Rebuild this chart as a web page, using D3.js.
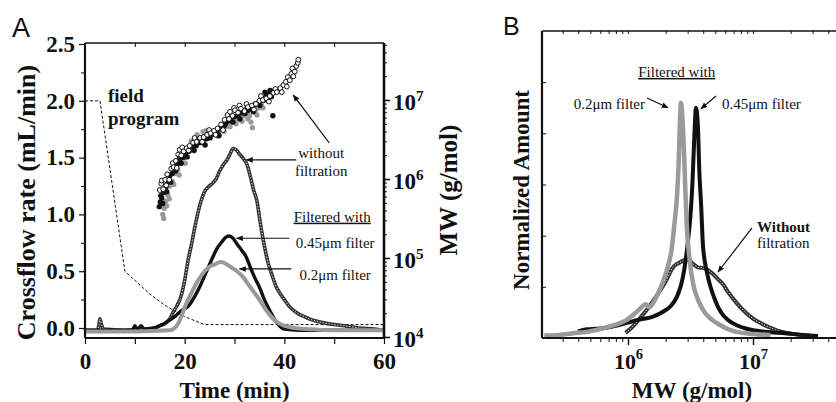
<!DOCTYPE html>
<html>
<head>
<meta charset="utf-8">
<script src="https://cdn.jsdelivr.net/npm/d3@7"></script>
<style>
  body { margin: 0; background: #fff; }
  svg { display: block; }
  text { font-family: "Liberation Serif", "Times New Roman", serif; fill: #111; }
</style>
</head>
<body>
<div id="chart"></div>
<script>
// ===============================================================
// Data
// ===============================================================

// Panel A: crossflow program [time (min), rate (mL/min)]
const fieldProgram = [[0, 2.0], [3, 2.0], [8, 0.5], [10, 0.42], [13, 0.3], [16, 0.2], [20, 0.1], [24, 0.03], [60, 0.03]];

// Panel A: fractograms, [time (min), signal on the left scale]
const ringA = [[0,-0.02],[2.5,-0.02],[2.8,0.03],[3.0,0.08],[3.3,0.03],[3.8,-0.01],[8,-0.02],[12,-0.01],[14,0.0],[15,0.02],
  [16,0.04],[17,0.08],[17.7,0.14],[18.5,0.2],[19.2,0.27],[20,0.42],[20.7,0.6],[21.3,0.72],[22,0.88],[22.7,1.02],
  [23.3,1.12],[24,1.2],[24.7,1.24],[25.5,1.27],[26.3,1.31],[27,1.38],[27.8,1.44],[28.5,1.48],[29.1,1.53],[29.7,1.58],
  [30.3,1.57],[31,1.53],[31.8,1.49],[32.5,1.44],[33.2,1.33],[33.8,1.22],[34.5,1.12],[35.2,0.92],[36,0.72],[36.7,0.58],
  [37.5,0.47],[38.3,0.37],[39.2,0.3],[40,0.25],[41,0.19],[42,0.15],[43,0.12],[44,0.1],[45,0.08],[46.5,0.06],
  [48,0.045],[50,0.03],[52,0.02],[55,0.0],[58,-0.01],[60,-0.02]];

const black045A = [[0,-0.02],[9.5,-0.02],[10,0.02],[10.5,-0.01],[11.3,0.02],[11.8,-0.01],[14,0.0],[15,0.02],[16,0.04],[17,0.07],
  [18,0.1],[19,0.14],[20,0.17],[20.7,0.19],[21.5,0.24],[22.3,0.3],[23,0.36],[24,0.46],[25,0.56],[25.7,0.63],
  [26.5,0.7],[27.5,0.76],[28.3,0.8],[29,0.81],[29.7,0.79],[30.5,0.74],[31.5,0.68],[32.3,0.63],[33.3,0.52],[34.2,0.43],
  [35,0.36],[36,0.25],[37,0.16],[38,0.08],[39,0.02],[40,-0.01],[43,-0.02],[60,-0.02]];

const gray02A = [[0,-0.03],[10,-0.03],[17,-0.02],[18,0.0],[18.7,0.04],[19.5,0.12],[20,0.18],[20.7,0.25],[21.5,0.32],[22.3,0.39],
  [23,0.44],[24,0.5],[25,0.54],[26,0.56],[27.3,0.58],[28.5,0.56],[29.5,0.53],[30.5,0.5],[31.7,0.45],[33,0.37],
  [34,0.31],[35,0.25],[36,0.18],[37,0.12],[38.3,0.06],[40,0.02],[42,0.0],[45,-0.01],[50,-0.02],[60,-0.02]];

// Panel A: molar mass, [time (min), log10 MW]
const mwOpen = [[15.0,5.86],[15.3,5.94],[15.4,5.98],[15.7,5.87],[16.1,5.99],[16.3,5.92],[16.5,6.06],[16.9,5.99],[17.3,6.13],[17.6,6.2],
  [17.8,6.15],[18.2,6.23],[18.4,6.14],[18.7,6.31],[19.0,6.37],[19.3,6.3],[19.5,6.4],[19.8,6.35],[20.4,6.39],[20.8,6.36],
  [21.0,6.42],[21.7,6.46],[22.0,6.52],[22.4,6.47],[23.1,6.52],[23.5,6.47],[23.8,6.53],[24.5,6.56],[24.9,6.62],[25.2,6.58],
  [25.9,6.61],[26.2,6.56],[26.6,6.64],[27.3,6.69],[27.7,6.62],[28.0,6.75],[28.6,6.81],[28.9,6.76],[29.1,6.85],[29.6,6.8],
  [29.9,6.9],[30.1,6.87],[30.7,6.84],[31.0,6.93],[31.3,6.89],[32.0,6.86],[32.4,6.95],[32.7,6.91],[33.5,6.93],[33.9,6.88],
  [34.3,6.95],[35.0,6.99],[35.3,7.05],[35.7,7.0],[36.4,7.02],[36.9,6.98],[37.1,7.05],[37.8,7.09],[38.2,7.14],[38.5,7.1],
  [39.2,7.15],[39.5,7.1],[39.8,7.19],[40.3,7.23],[40.5,7.17],[40.7,7.29],[41.1,7.25],[41.4,7.33],[41.6,7.4],[41.8,7.3],
  [42.1,7.36],[42.4,7.43],[42.7,7.47],[42.8,7.51]];

const mwBlack = [[14.9,5.65],[15.1,5.71],[15.2,5.79],[15.4,5.76],[15.6,5.69],[15.8,5.83],[16.2,5.9],[16.4,5.84],[16.6,5.97],[17.0,6.04],
  [17.2,5.96],[17.5,6.07],[18.0,6.16],[18.2,6.1],[18.5,6.19],[19.0,6.26],[19.3,6.2],[19.6,6.27],[20.2,6.33],[20.5,6.28],
  [20.9,6.35],[21.6,6.41],[21.9,6.36],[22.3,6.42],[22.7,6.5],[23.0,6.46],[23.7,6.46],[24.1,6.43],[24.4,6.51],[25.1,6.52],
  [25.5,6.6],[25.8,6.57],[26.5,6.6],[26.9,6.55],[27.2,6.64],[27.9,6.67],[28.2,6.7],[28.6,6.73],[29.3,6.74],[29.7,6.72],
  [30.0,6.79],[30.7,6.8],[31.1,6.76],[31.4,6.84],[32.1,6.83],[32.5,6.9],[32.8,6.87],[33.5,6.9],[33.8,6.85],[34.2,6.95],
  [34.9,6.97],[35.1,6.93],[35.4,7.03],[35.9,7.0],[36.1,7.1],[36.4,7.07],[36.7,7.0],[36.9,7.08],[37.2,7.12],[37.4,7.04],
  [37.7,6.8]];

const mwGray = [[15.6,5.55],[15.8,5.5],[15.9,5.63],[16.2,5.72],[16.4,5.66],[16.6,5.8],[16.9,5.75],[17.0,5.91],[17.5,5.97],[17.8,5.93],
  [18.0,6.07],[18.6,6.12],[18.9,6.05],[19.2,6.21],[19.8,6.27],[20.1,6.2],[20.4,6.34],[21.0,6.38],[21.3,6.48],[21.6,6.43],
  [22.2,6.46],[22.5,6.56],[22.8,6.51],[23.4,6.53],[23.7,6.6],[24.0,6.56],[24.3,6.61],[24.6,6.55],[25.2,6.54],[25.5,6.6],
  [25.8,6.58],[26.4,6.6],[26.7,6.54],[27.0,6.61],[27.6,6.65],[27.9,6.6],[28.2,6.66],[28.8,6.71],[29.1,6.66],[29.4,6.72],
  [30.0,6.75],[30.3,6.7],[30.6,6.76],[31.2,6.79],[31.5,6.73],[31.8,6.8],[32.4,6.83],[32.7,6.76],[33.0,6.8],[33.3,6.72],
  [33.6,6.65],[34.2,6.86],[34.5,6.81],[34.8,6.9],[35.4,6.94],[35.7,6.9],[36.0,7.0],[36.5,7.06],[36.7,7.03],[37.0,7.12]];

// Panel B: distributions, [log10 MW, normalized amount]
const ringB = [[5.98,0.1],[6.02,0.18],[6.06,0.28],[6.1,0.4],[6.15,0.55],[6.2,0.72],[6.26,0.94],[6.3,1.1],[6.36,1.38],[6.41,1.47],
  [6.45,1.52],[6.48,1.53],[6.52,1.45],[6.56,1.38],[6.6,1.37],[6.64,1.33],[6.68,1.25],[6.72,1.15],[6.76,1.05],[6.8,0.9],
  [6.85,0.74],[6.9,0.6],[6.95,0.48],[7.0,0.38],[7.07,0.28],[7.14,0.2],[7.2,0.14],[7.27,0.1],[7.35,0.07],[7.45,0.05]];

const black045B = [[5.6,0.13],[5.67,0.17],[5.75,0.18],[5.83,0.2],[5.92,0.25],[6.0,0.3],[6.07,0.35],[6.14,0.38],[6.2,0.42],[6.27,0.5],
  [6.34,0.62],[6.39,0.8],[6.42,1.0],[6.44,1.2],[6.46,1.5],[6.48,1.9],[6.5,2.4],[6.515,3.0],[6.53,3.9],[6.544,4.5],
  [6.56,4.1],[6.57,3.3],[6.585,2.6],[6.6,1.8],[6.63,1.3],[6.66,1.0],[6.7,0.72],[6.74,0.52],[6.8,0.35],[6.87,0.25],
  [6.95,0.18],[7.0,0.15],[7.1,0.12],[7.27,0.09],[7.4,0.06],[7.52,0.04]];

const gray02B = [[5.33,0.05],[5.45,0.06],[5.55,0.09],[5.67,0.12],[5.8,0.19],[5.9,0.26],[5.98,0.34],[6.05,0.47],[6.1,0.58],[6.14,0.66],
  [6.17,0.6],[6.2,0.68],[6.25,0.92],[6.28,1.1],[6.32,1.4],[6.35,1.75],[6.37,2.2],[6.39,2.7],[6.405,3.4],[6.415,4.2],
  [6.424,4.6],[6.435,4.3],[6.45,3.5],[6.46,2.8],[6.47,2.2],[6.49,1.6],[6.52,1.07],[6.56,0.75],[6.6,0.55],[6.67,0.36],
  [6.74,0.25],[6.8,0.17],[6.87,0.12],[7.0,0.08],[7.14,0.06]];

// tick values
const timeTicks = [0, 10, 20, 30, 40, 50, 60];
const rateTicks = [0, 0.5, 1.0, 1.5, 2.0, 2.5];
const rateMinor = [0.25, 0.75, 1.25, 1.75, 2.25];
const mwDecadesA = [4, 5, 6, 7];
const mwDecadesB = [6, 7];

// ===============================================================
// Layout
// ===============================================================
const W = 836, H = 402;
const A = {left: 85, right: 384, top: 43, bottom: 338};
const B = {left: 542, right: 846, top: 31, bottom: 338};
const INK = '#111', GRAY = '#9a9a9a', RING = '#333';
const SERIF = '"Liberation Serif", "Times New Roman", serif';

const svg = d3.select('#chart').append('svg')
  .attr('width', W).attr('height', H)
  .attr('viewBox', `0 0 ${W} ${H}`);

const defs = svg.append('defs');
defs.append('marker')
  .attr('id', 'arrow')
  .attr('viewBox', '0 0 10 10')
  .attr('refX', 9).attr('refY', 5)
  .attr('markerWidth', 7).attr('markerHeight', 7)
  .attr('markerUnits', 'userSpaceOnUse')
  .attr('orient', 'auto')
  .append('path').attr('d', 'M0,1 L10,5 L0,9 z').attr('fill', INK);

// scales
const xA = d3.scaleLinear().domain([0, 60]).range([A.left, A.right]);
const yA = d3.scaleLinear().domain([0, 2.5]).range([328, 44]);
const yMW = d3.scaleLog().domain([1e4, 1e7]).range([337, 100]);
const xB = d3.scaleLog().domain([1e6, 1e7]).range([628, 753]);
const yB = d3.scaleLinear().domain([0, 6]).range([B.bottom, B.top]);

const pow10 = v => Math.pow(10, v);
function minorLogTicks(lo, hi) {
  const out = [];
  for (let e = lo; e <= hi; e++) for (let m = 2; m <= 9; m++) out.push(m * pow10(e));
  return out;
}

function styleAxis(g, w) {
  g.attr('font-family', SERIF);
  g.select('.domain').remove();
  g.selectAll('.tick line').attr('stroke', INK).attr('stroke-width', w || 1.2);
  g.selectAll('.tick text').attr('font-weight', 'bold').attr('fill', INK).style('font-family', SERIF);
}

function supLabels(g, fs) {
  g.selectAll('.tick text').each(function(d) {
    const t = d3.select(this);
    const e = Math.round(Math.log10(d));
    t.text('10');
    t.append('tspan').attr('dy', -fs * 0.42).attr('font-size', fs * 0.66).text(e);
  });
}

function frame(p, wl, wb, wr, wt) {
  const g = svg.append('g').attr('stroke', INK).attr('fill', 'none');
  g.append('line').attr('x1', p.left).attr('x2', p.left).attr('y1', p.top).attr('y2', p.bottom).attr('stroke-width', wl);
  g.append('line').attr('x1', p.left).attr('x2', p.right).attr('y1', p.bottom).attr('y2', p.bottom).attr('stroke-width', wb);
  if (wr) g.append('line').attr('x1', p.right).attr('x2', p.right).attr('y1', p.top).attr('y2', p.bottom).attr('stroke-width', wr);
  g.append('line').attr('x1', p.left).attr('x2', p.right).attr('y1', p.top).attr('y2', p.top).attr('stroke-width', wt);
}

// draws a "line of open circles" as a dark ribbon with light centres
function ringPath(parent, data, line, w) {
  parent.append('path').datum(data).attr('d', line)
    .attr('fill', 'none').attr('stroke', RING).attr('stroke-width', w);
  parent.append('path').datum(data).attr('d', line)
    .attr('fill', 'none').attr('stroke', '#e8e8e8').attr('stroke-width', 1).attr('stroke-dasharray', '1.3,1.7');
}

// ===============================================================
// Panel A
// ===============================================================
const lineA = d3.line().x(d => xA(d[0])).y(d => yA(d[1])).curve(d3.curveMonotoneX);

svg.append('path').datum(fieldProgram)
  .attr('d', d3.line().x(d => xA(d[0])).y(d => yA(d[1])))
  .attr('fill', 'none').attr('stroke', INK).attr('stroke-width', 1).attr('stroke-dasharray', '3,2');

ringPath(svg, ringA, lineA, 3.6);

svg.append('path').datum(black045A).attr('d', lineA)
  .attr('fill', 'none').attr('stroke', INK).attr('stroke-width', 3.4);
svg.append('path').datum(gray02A).attr('d', lineA)
  .attr('fill', 'none').attr('stroke', GRAY).attr('stroke-width', 4);

// MW scatter
const mwX = d => xA(d[0]), mwY = d => yMW(pow10(d[1]));
svg.append('g').selectAll('circle').data(mwGray).join('circle')
  .attr('cx', mwX).attr('cy', mwY).attr('r', 2.7).attr('fill', GRAY);
svg.append('g').selectAll('circle').data(mwBlack).join('circle')
  .attr('cx', mwX).attr('cy', mwY).attr('r', 2.7).attr('fill', INK);
svg.append('g').selectAll('circle').data(mwOpen).join('circle')
  .attr('cx', mwX).attr('cy', mwY).attr('r', 2.4)
  .attr('fill', '#fff').attr('stroke', INK).attr('stroke-width', 1);

// axes A
svg.append('g').attr('transform', `translate(0,${A.bottom})`)
  .call(d3.axisBottom(xA).tickValues(timeTicks).tickSize(6).tickPadding(9)
    .tickFormat(d => d % 20 === 0 ? d : ''))
  .call(g => styleAxis(g)).call(g => g.selectAll('.tick text').attr('font-size', 23));
svg.append('g').attr('transform', `translate(0,${A.top})`)
  .call(d3.axisTop(xA).tickValues(timeTicks.slice(1, -1)).tickSize(-4).tickFormat(''))
  .call(g => styleAxis(g, 1));
svg.append('g').attr('transform', `translate(${A.left},0)`)
  .call(d3.axisLeft(yA).tickValues(rateTicks).tickSize(6).tickPadding(4).tickFormat(d3.format('.1f')))
  .call(g => styleAxis(g)).call(g => g.selectAll('.tick text').attr('font-size', 23));
svg.append('g').attr('transform', `translate(${A.left},0)`)
  .call(d3.axisLeft(yA).tickValues(rateMinor).tickSize(4).tickFormat(''))
  .call(g => styleAxis(g, 1));
svg.append('g').attr('transform', `translate(${A.right},0)`)
  .call(d3.axisRight(yMW).tickValues(mwDecadesA.map(pow10)).tickSize(6).tickPadding(3))
  .call(g => styleAxis(g, 1.6))
  .call(g => g.selectAll('.tick text').attr('font-size', 23).attr('dy', '0.42em'))
  .call(g => supLabels(g, 23));
svg.append('g').attr('transform', `translate(${A.right},0)`)
  .call(d3.axisRight(yMW).tickValues(minorLogTicks(4, 7).filter(v => yMW(v) > A.top)).tickSize(3).tickFormat(''))
  .call(g => styleAxis(g, 1));
frame(A, 2.2, 2.2, 2.6, 1.3);

// titles A
svg.append('text').attr('x', 12).attr('y', 37)
  .style('font-family', '"Liberation Sans", Arial, sans-serif')
  .attr('font-size', 27).text('A');
svg.append('text').attr('transform', `translate(35,${(A.top + A.bottom) / 2 + 12}) rotate(-90)`)
  .attr('text-anchor', 'middle').attr('font-weight', 'bold').attr('font-size', 26)
  .text('Crossflow rate (mL/min)');
svg.append('text').attr('x', (A.left + A.right) / 2).attr('y', 398)
  .attr('text-anchor', 'middle').attr('font-weight', 'bold').attr('font-size', 23)
  .text('Time (min)');
svg.append('text').attr('transform', `translate(457,190) rotate(-90)`)
  .attr('text-anchor', 'middle').attr('font-weight', 'bold').attr('font-size', 25)
  .text('MW (g/mol)');

// annotations A
const annA = svg.append('g').attr('font-size', 15);
annA.append('text').attr('x', xA(4.6)).attr('y', yA(2.05) + 7)
  .attr('font-weight', 'bold').attr('font-size', 19).text('field');
annA.append('text').attr('x', xA(4.6)).attr('y', yA(1.85) + 7)
  .attr('font-weight', 'bold').attr('font-size', 19).text('program');
annA.append('text').attr('x', xA(47.4)).attr('y', yA(1.54) + 5).attr('text-anchor', 'middle').text('without');
annA.append('text').attr('x', xA(47.4)).attr('y', yA(1.38) + 5).attr('text-anchor', 'middle').text('filtration');
annA.append('text').attr('x', xA(49.6)).attr('y', yA(0.98) + 5).attr('text-anchor', 'middle')
  .attr('text-decoration', 'underline').text('Filtered with');
annA.append('text').attr('x', xA(50.2)).attr('y', yA(0.75) + 5).attr('text-anchor', 'middle').text('0.45μm filter');
annA.append('text').attr('x', xA(50.2)).attr('y', yA(0.47) + 5).attr('text-anchor', 'middle').text('0.2μm filter');

const arrowsA = [
  [[49, 1.63], [41.8, 2.05]],
  [[42.4, 1.48], [32.4, 1.48]],
  [[41, 0.79], [30.4, 0.79]],
  [[41.4, 0.52], [31, 0.52]]
];
svg.append('g').selectAll('line').data(arrowsA).join('line')
  .attr('x1', d => xA(d[0][0])).attr('y1', d => yA(d[0][1]))
  .attr('x2', d => xA(d[1][0])).attr('y2', d => yA(d[1][1]))
  .attr('stroke', INK).attr('stroke-width', 1.2).attr('marker-end', 'url(#arrow)');

// ===============================================================
// Panel B
// ===============================================================
const clipB = defs.append('clipPath').attr('id', 'clipB');
clipB.append('rect').attr('x', B.left).attr('y', B.top - 5).attr('width', W - B.left).attr('height', B.bottom - B.top + 5);

const lineB = d3.line().x(d => xB(pow10(d[0]))).y(d => yB(d[1])).curve(d3.curveMonotoneX);
const plotB = svg.append('g').attr('clip-path', 'url(#clipB)');
ringPath(plotB, ringB, lineB, 4);
plotB.append('path').datum(black045B).attr('d', lineB)
  .attr('fill', 'none').attr('stroke', INK).attr('stroke-width', 4);
plotB.append('path').datum(gray02B).attr('d', lineB)
  .attr('fill', 'none').attr('stroke', GRAY).attr('stroke-width', 4.5);

// axes B
const bMinor = minorLogTicks(5, 7).filter(v => xB(v) > B.left && xB(v) < W);
svg.append('g').attr('transform', `translate(0,${B.bottom})`)
  .call(d3.axisBottom(xB).tickValues(mwDecadesB.map(pow10)).tickSize(7).tickPadding(8))
  .call(g => styleAxis(g, 1.4))
  .call(g => g.selectAll('.tick text').attr('font-size', 22))
  .call(g => supLabels(g, 22));
svg.append('g').attr('transform', `translate(0,${B.bottom})`)
  .call(d3.axisBottom(xB).tickValues(bMinor).tickSize(4).tickFormat(''))
  .call(g => styleAxis(g, 1));
svg.append('g').attr('transform', `translate(0,${B.top})`)
  .call(d3.axisTop(xB).tickValues(bMinor.concat(mwDecadesB.map(pow10))).tickSize(-3).tickFormat(''))
  .call(g => styleAxis(g, 1));
svg.append('g').attr('transform', `translate(${B.left},0)`)
  .call(d3.axisRight(yB).tickValues([1, 2, 3, 4, 5]).tickSize(4).tickFormat(''))
  .call(g => styleAxis(g, 1));
frame(B, 2.2, 2.2, 0, 1.3);

// titles B
svg.append('text').attr('x', 503).attr('y', 35)
  .style('font-family', '"Liberation Sans", Arial, sans-serif')
  .attr('font-size', 25).text('B');
svg.append('text').attr('transform', `translate(529,190) rotate(-90)`)
  .attr('text-anchor', 'middle').attr('font-weight', 'bold').attr('font-size', 23)
  .text('Normalized Amount');
svg.append('text').attr('x', 692).attr('y', 398)
  .attr('text-anchor', 'middle').attr('font-weight', 'bold').attr('font-size', 23)
  .text('MW (g/mol)');

// annotations B
const annB = svg.append('g').attr('font-size', 15);
annB.append('text').attr('x', xB(pow10(6.39))).attr('y', yB(5.2) + 5).attr('text-anchor', 'middle')
  .attr('text-decoration', 'underline').text('Filtered with');
annB.append('text').attr('x', xB(pow10(6.136))).attr('y', yB(4.57) + 5).attr('text-anchor', 'end').text('0.2μm filter');
annB.append('text').attr('x', xB(pow10(6.752))).attr('y', yB(4.57) + 5).text('0.45μm filter');
annB.append('text').attr('x', xB(pow10(7.032))).attr('y', yB(2.17) + 5).attr('font-weight', 'bold').text('Without');
annB.append('text').attr('x', xB(pow10(7.032))).attr('y', yB(1.86) + 5).text('filtration');

const arrowsB = [
  [[6.152, 4.69], [6.32, 4.5]],
  [[6.704, 4.73], [6.584, 4.48]],
  [[6.992, 2.15], [6.72, 1.29]]
];
svg.append('g').selectAll('line').data(arrowsB).join('line')
  .attr('x1', d => xB(pow10(d[0][0]))).attr('y1', d => yB(d[0][1]))
  .attr('x2', d => xB(pow10(d[1][0]))).attr('y2', d => yB(d[1][1]))
  .attr('stroke', INK).attr('stroke-width', 1.2).attr('marker-end', 'url(#arrow)');
</script>
</body>
</html>
